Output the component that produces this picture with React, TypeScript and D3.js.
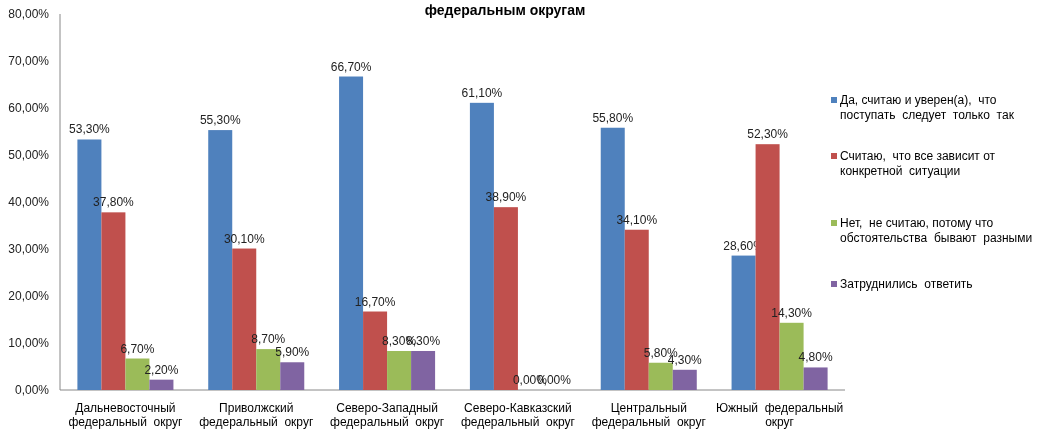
import React, { useRef, useEffect } from 'react';
import * as d3 from 'd3';

const districts = [
  ['Дальневосточный', 'федеральный  округ'],
  ['Приволжский', 'федеральный  округ'],
  ['Северо-Западный', 'федеральный  округ'],
  ['Северо-Кавказский', 'федеральный  округ'],
  ['Центральный', 'федеральный  округ'],
  ['Южный  федеральный', 'округ'],
];

const seriesNames = [
  ['Да, считаю и уверен(а),  что', 'поступать  следует  только  так'],
  ['Считаю,  что все зависит от', 'конкретной  ситуации'],
  ['Нет,  не считаю, потому что', 'обстоятельства  бывают  разными'],
  ['Затруднились  ответить'],
];

const yesValues = [53.3, 55.3, 66.7, 61.1, 55.8, 28.6];
const dependsValues = [37.8, 30.1, 16.7, 38.9, 34.1, 52.3];
const noValues = [6.7, 8.7, 8.3, 0, 5.8, 14.3];
const hardValues = [2.2, 5.9, 8.3, 0, 4.3, 4.8];

const yTicks = [0, 10, 20, 30, 40, 50, 60, 70, 80];
const colors = ['#4F81BD', '#C0504D', '#9BBB59', '#8064A2'];

const fmt = (v: number) => v.toFixed(2).replace('.', ',') + '%';

function App() {
  const ref = useRef<SVGSVGElement>(null);

  useEffect(() => {
    const svg = d3.select(ref.current);
    svg.selectAll('*').remove();
    const width = 1040, height = 429;
    svg.attr('width', width).attr('height', height)
      .style('font-family', '"Liberation Sans", Arial, sans-serif');

    const series = [yesValues, dependsValues, noValues, hardValues];
    const left = 60, right = 845, top = 14, bottom = 390;

    const x0 = d3.scaleBand().domain(districts.map((_, i) => String(i))).range([left, right]).paddingInner(0.266).paddingOuter(0.133);
    const x1 = d3.scaleBand().domain(series.map((_, i) => String(i))).range([0, x0.bandwidth()]);
    const y = d3.scaleLinear().domain([0, 80]).range([bottom, top]);

    // title (first line cut off at the top)
    svg.append('text').attr('x', 505).attr('y', 15).attr('text-anchor', 'middle')
      .attr('font-weight', 'bold').attr('font-size', 14).attr('fill', '#000').text('федеральным округам');

    // y tick labels
    svg.append('g').selectAll('text').data(yTicks).join('text')
      .attr('x', 49).attr('y', (d) => y(d) + 4).attr('text-anchor', 'end')
      .attr('font-size', 12).attr('fill', '#222').text((d) => fmt(d));

    // axes lines
    svg.append('line').attr('x1', left).attr('x2', left).attr('y1', top).attr('y2', bottom).attr('stroke', '#888');
    svg.append('line').attr('x1', left).attr('x2', right).attr('y1', bottom).attr('y2', bottom).attr('stroke', '#888');

    // bars
    series.forEach((vals, s) => {
      const g = svg.append('g');
      g.selectAll('rect').data(vals).join('rect')
        .attr('x', (_, i) => x0(String(i))! + x1(String(s))!)
        .attr('y', (d) => y(d))
        .attr('width', x1.bandwidth())
        .attr('height', (d) => bottom - y(d))
        .attr('fill', colors[s]);
      g.selectAll('text').data(vals).join('text')
        .attr('x', (_, i) => x0(String(i))! + x1(String(s))! + x1.bandwidth() / 2)
        .attr('y', (d) => y(d) - 6)
        .attr('text-anchor', 'middle').attr('font-size', 12).attr('fill', '#222')
        .text((d) => fmt(d));
    });

    // x labels
    const xl = svg.append('g');
    districts.forEach((lines, i) => {
      const cx = x0(String(i))! + x0.bandwidth() / 2;
      lines.forEach((t, j) => {
        xl.append('text').attr('x', cx).attr('y', 412 + j * 14).attr('text-anchor', 'middle')
          .attr('font-size', 12).attr('fill', '#000').style('white-space', 'pre').text(t);
      });
    });

    // legend
    const legendY = [104, 160, 227, 288];
    seriesNames.forEach((lines, s) => {
      const g = svg.append('g');
      g.append('rect').attr('x', 831).attr('y', legendY[s] - 7).attr('width', 6).attr('height', 6).attr('fill', colors[s]);
      lines.forEach((t, j) => {
        g.append('text').attr('x', 840).attr('y', legendY[s] + j * 15).attr('font-size', 12)
          .attr('fill', '#000').style('white-space', 'pre').text(t);
      });
    });
  }, []);

  return <svg ref={ref} style={{ display: 'block', position: 'fixed', top: 0, left: 0 }}></svg>;
}

export default App;
